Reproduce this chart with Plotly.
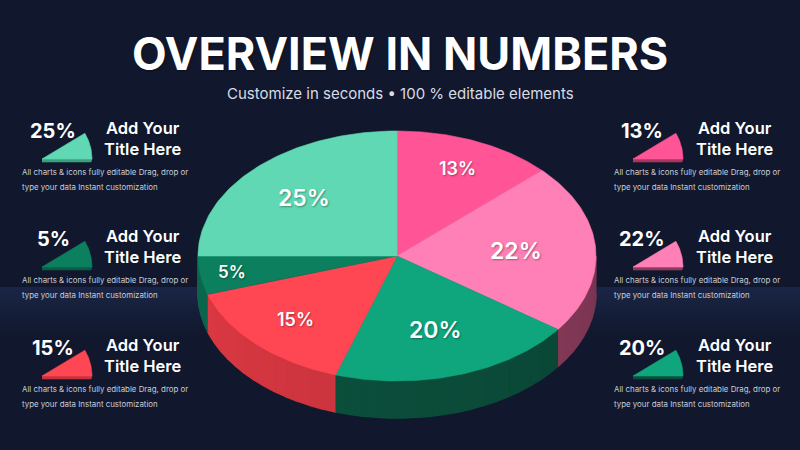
import numpy as np
import plotly.graph_objects as go

# slices, clockwise from 12 o'clock
values = [13, 22, 20, 15, 5, 25]
slice_labels = ["13%", "22%", "20%", "15%", "5%", "25%"]
top_colors = ["#ff5597", "#ff80b6", "#0fa67d", "#ff4753", "#0b7f5e", "#5fd8b3"]
side_colors = ["#a8355f", "#8a3c5c", "#0b4d3a", "#c7333c", "#0a5c45", "#3aa080"]

# side panels
left_values = [25, 5, 15]
right_values = [13, 22, 20]
panel_title = "Add Your<br>Title Here"
panel_lines = ["All charts & icons fully editable Drag, drop or",
               "type your data Instant customization"]

title = "OVERVIEW IN NUMBERS"
subtitle = "Customize in seconds \u2022 100 % editable elements"

# geometry of the tilted pie (pixels)
cx, cy, rx, ry, depth = 397, 256, 199, 125, 37
label_r = [0.76, 0.6, 0.62, 0.72, 0.84, 0.66]
label_size = [18, 23, 23, 18, 17, 23]

BG = "#11182d"
FONT = "Inter"
SHADOW = "1px 1px 2px rgba(0,0,0,0.35)"

fig = go.Figure()


def ell(theta, dy=0.0):
    # theta in degrees, clockwise from top
    t = np.radians(theta)
    return cx + rx * np.sin(t), cy - ry * np.cos(t) + dy


def add_poly(xs, ys, color, lw=0.6):
    fig.add_trace(go.Scatter(x=list(xs), y=list(ys), fill="toself", fillcolor=color,
                             mode="lines", line=dict(width=lw, color=color),
                             hoverinfo="skip"))


def shade(hexcol, f):
    r, g, b = (int(hexcol[k:k + 2], 16) for k in (1, 3, 5))
    c = [max(0, min(255, int(round(v * f)))) for v in (r, g, b)]
    return "#%02x%02x%02x" % tuple(c)


total = sum(values)
edges = np.concatenate([[0], np.cumsum(values) / total * 360])

# sides (only the front half, 90..270 deg, is visible), drawn in strips for shading
for i in range(len(values)):
    a0, a1 = max(edges[i], 90), min(edges[i + 1], 270)
    if a1 <= a0:
        continue
    steps = np.arange(a0, a1, 4.0).tolist() + [a1]
    for s0, s1 in zip(steps[:-1], steps[1:]):
        th = np.linspace(s0, s1, 6)
        xt, yt = ell(th)
        xb, yb = ell(th[::-1], depth)
        f = 0.88 + 0.24 * ((s0 + s1) / 2 - 90) / 180
        add_poly(np.concatenate([xt, xb]), np.concatenate([yt, yb]),
                 shade(side_colors[i], f), lw=1.6)

# top faces
for i in range(len(values)):
    th = np.linspace(edges[i], edges[i + 1], 80)
    xs, ys = ell(th)
    add_poly(np.concatenate([[cx], xs, [cx]]), np.concatenate([[cy], ys, [cy]]), top_colors[i])

# slice labels
for i, lab in enumerate(slice_labels):
    mid = np.radians((edges[i] + edges[i + 1]) / 2)
    lx = cx + rx * label_r[i] * np.sin(mid)
    ly = cy - ry * label_r[i] * np.cos(mid)
    fig.add_annotation(x=lx, y=ly, text=lab, showarrow=False,
                       font=dict(family=FONT, size=label_size[i], color="white",
                                 weight=600, shadow=SHADOW))

color_of = dict(zip(values, top_colors))
dark_of = dict(zip(values, side_colors))


def panel(val, px_, py, pct_x, title_x, text_x):
    # small wedge icon
    th = np.radians(np.linspace(0, 31, 30))
    r = 50
    xs = px_ + r * np.cos(th)
    ys = py - r * np.sin(th)
    add_poly([px_, px_ + r, px_ + r - 1, px_], [py, py, py + 3, py + 3], dark_of[val])
    add_poly(np.concatenate([[px_], xs, [px_]]), np.concatenate([[py], ys, [py]]), color_of[val])
    fig.add_annotation(x=pct_x, y=py - 28, text=f"{val}%", showarrow=False,
                       font=dict(family=FONT, size=20, color="white", weight=700))
    fig.add_annotation(x=title_x, y=py - 21, text=panel_title, showarrow=False,
                       font=dict(family=FONT, size=16.5, color="white", weight=600),
                       align="center")
    for k, line in enumerate(panel_lines):
        fig.add_annotation(x=text_x, y=py + 13 + 15 * k, text=line, showarrow=False,
                           xanchor="left", align="left",
                           font=dict(family=FONT, size=7.9, color="#c9cdd6"))


row_y = [159, 267, 376]
for v, y in zip(left_values, row_y):
    panel(v, 42, y, 53, 143, 20)
for v, y in zip(right_values, row_y):
    panel(v, 633, y, 642, 735, 612)

fig.add_annotation(x=400, y=53, text=title, showarrow=False,
                   font=dict(family=FONT, size=45, color="white", weight=700, shadow=SHADOW))
fig.add_annotation(x=400, y=93, text=subtitle, showarrow=False,
                   font=dict(family=FONT, size=15, color="#d8dce5"))

# faint horizon band behind the pie
band = []
for k in range(12):
    band.append(dict(type="rect", xref="x", yref="y", x0=0, x1=800,
                     y0=287 + k * 4, y1=291 + k * 4, line_width=0, layer="below",
                     fillcolor="#223058", opacity=0.55 * (1 - k / 12)))

fig.update_layout(
    width=800, height=450, margin=dict(l=0, r=0, t=0, b=0),
    paper_bgcolor=BG, plot_bgcolor=BG, showlegend=False, shapes=band,
    xaxis=dict(range=[0, 800], visible=False, fixedrange=True),
    yaxis=dict(range=[450, 0], visible=False, fixedrange=True),
)

fig.write_html("out.html", config={"displayModeBar": False},
               post_script="document.body.style.margin='0';")
